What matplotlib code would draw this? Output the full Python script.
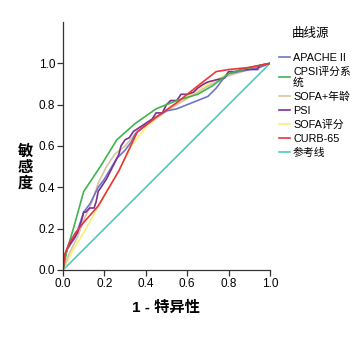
import matplotlib
matplotlib.use("Agg")
import matplotlib.pyplot as plt
from matplotlib.lines import Line2D

plt.rcParams['font.family'] = ['Liberation Sans', 'Noto Sans CJK SC', 'DejaVu Sans']

labels = ["APACHE II", "CPSI评分系\n统", "SOFA+年龄", "PSI", "SOFA评分", "CURB-65", "参考线"]
colors = ["#7274c8", "#3fb44f", "#d8c59c", "#7d2f92", "#f8ef7a", "#e8363c", "#52c9bf"]

apache_x = [0.0, 0.01, 0.02, 0.04, 0.06, 0.08, 0.10, 0.13, 0.15, 0.17, 0.20, 0.23, 0.26, 0.30, 0.33, 0.35, 0.40, 0.45, 0.50, 0.55, 0.60, 0.65, 0.70, 0.74, 0.77, 0.80, 0.85, 0.90, 0.95, 1.0]
apache_y = [0.0, 0.07, 0.10, 0.13, 0.16, 0.22, 0.28, 0.32, 0.36, 0.40, 0.44, 0.49, 0.54, 0.58, 0.62, 0.66, 0.70, 0.74, 0.77, 0.78, 0.80, 0.82, 0.84, 0.88, 0.92, 0.95, 0.96, 0.97, 0.98, 1.0]

cpsi_x = [0.0, 0.02, 0.05, 0.10, 0.18, 0.26, 0.35, 0.45, 0.55, 0.65, 0.72, 0.80, 0.90, 1.0]
cpsi_y = [0.0, 0.10, 0.20, 0.38, 0.50, 0.63, 0.71, 0.78, 0.82, 0.85, 0.89, 0.95, 0.98, 1.0]

sofaage_x = [0.0, 0.03, 0.07, 0.10, 0.14, 0.17, 0.21, 0.25, 0.30, 0.35, 0.40, 0.50, 0.60, 0.70, 0.80, 0.90, 1.0]
sofaage_y = [0.0, 0.08, 0.16, 0.24, 0.33, 0.42, 0.50, 0.56, 0.60, 0.66, 0.70, 0.77, 0.83, 0.89, 0.94, 0.97, 1.0]

psi_x = [0.0, 0.01, 0.02, 0.03, 0.05, 0.07, 0.09, 0.10, 0.11, 0.13, 0.15, 0.16, 0.17, 0.19, 0.21, 0.23, 0.25, 0.27, 0.28, 0.30, 0.32, 0.34, 0.37, 0.40, 0.43, 0.45, 0.48, 0.50, 0.52, 0.55, 0.57, 0.60, 0.63, 0.65, 0.68, 0.70, 0.74, 0.78, 0.80, 0.83, 0.86, 0.90, 0.94, 0.95, 1.0]
psi_y = [0.0, 0.07, 0.10, 0.12, 0.15, 0.18, 0.24, 0.28, 0.28, 0.30, 0.30, 0.33, 0.38, 0.41, 0.44, 0.48, 0.52, 0.56, 0.60, 0.63, 0.64, 0.67, 0.69, 0.71, 0.73, 0.76, 0.76, 0.80, 0.82, 0.82, 0.85, 0.85, 0.86, 0.88, 0.90, 0.91, 0.92, 0.93, 0.96, 0.96, 0.97, 0.97, 0.97, 0.99, 1.0]

sofa_x = [0.0, 0.02, 0.05, 0.10, 0.15, 0.20, 0.27, 0.33, 0.40, 0.50, 0.60, 0.70, 0.80, 0.90, 1.0]
sofa_y = [0.0, 0.04, 0.10, 0.18, 0.27, 0.36, 0.48, 0.60, 0.69, 0.77, 0.84, 0.90, 0.95, 0.98, 1.0]

curb_x = [0.0, 0.01, 0.03, 0.06, 0.10, 0.17, 0.27, 0.36, 0.45, 0.55, 0.65, 0.74, 0.80, 0.90, 1.0]
curb_y = [0.0, 0.08, 0.13, 0.18, 0.23, 0.31, 0.48, 0.67, 0.74, 0.81, 0.89, 0.96, 0.97, 0.98, 1.0]

ref_x = [0.0, 1.0]
ref_y = [0.0, 1.0]

series = [(apache_x, apache_y), (cpsi_x, cpsi_y), (sofaage_x, sofaage_y), (psi_x, psi_y),
          (sofa_x, sofa_y), (curb_x, curb_y), (ref_x, ref_y)]
draw_order = [6, 4, 2, 0, 3, 1, 5]

fig = plt.figure(figsize=(3.6, 3.59), dpi=100)
ax = fig.add_axes([63/360, 1 - 270/359, 207/360, 248/359])

for i in draw_order:
    x, y = series[i]
    ax.plot(x, y, color=colors[i], lw=1.2, solid_joinstyle='miter')

ax.set_xlim(0, 1.0)
ax.set_ylim(0, 1.2)
ax.set_xticks([0, 0.2, 0.4, 0.6, 0.8, 1.0])
ax.set_yticks([0, 0.2, 0.4, 0.6, 0.8, 1.0])
ax.set_xticklabels(["0.0", "0.2", "0.4", "0.6", "0.8", "1.0"])
ax.set_yticklabels(["0.0", "0.2", "0.4", "0.6", "0.8", "1.0"])
ax.spines['top'].set_visible(False)
ax.spines['right'].set_visible(False)
for s in ['left', 'bottom']:
    ax.spines[s].set_color('#333333')
    ax.spines[s].set_linewidth(0.9)
ax.tick_params(direction='out', length=4, width=0.9, colors='#333333', labelsize=8.5, labelcolor='black', pad=1.5)

fig.text(25/360, 1 - 167/359, "敏\n感\n度", ha='center', va='center', fontsize=11, fontweight='bold',
         family=['Noto Sans CJK SC'], linespacing=1.0)
fig.text(166/360, 1 - 308/359, "1 - 特异性", ha='center', va='center', fontsize=11, fontweight='bold',
         family=['Liberation Sans', 'Noto Sans CJK SC'])

fig.text(311/360, 1 - 34/359, "曲线源", ha='center', va='center', fontsize=9,
         family=['Noto Sans CJK SC'])

handles = [Line2D([0], [0], color=c, lw=1.2) for c in colors]
leg = fig.legend(handles, labels, loc='upper left', bbox_to_anchor=(279/360, 1 - 53/359),
                 frameon=False, fontsize=7.8, handlelength=1.0, handletextpad=0.3,
                 labelspacing=0.36, borderpad=0.0, borderaxespad=0)
for t in leg.get_texts():
    t.set_linespacing(0.95)

fig.savefig("out.png", dpi=100)
